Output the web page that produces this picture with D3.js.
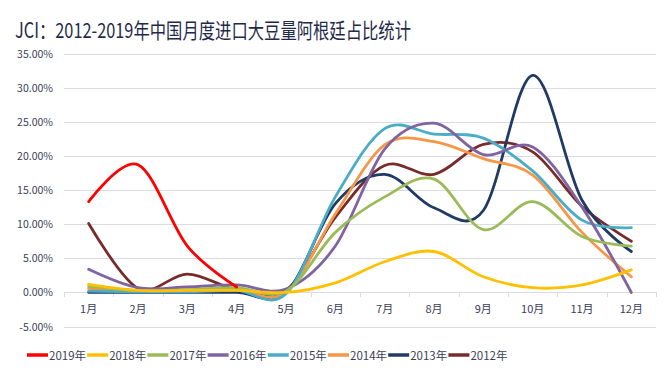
<!DOCTYPE html>
<html>
<head>
<meta charset="utf-8">
<script src="https://cdn.jsdelivr.net/npm/d3@7"></script>
<style>
  html, body { margin: 0; padding: 0; background: #fff; }
  svg { display: block; }
  text { font-family: "Noto Sans CJK SC", "Noto Sans", sans-serif; }
</style>
</head>
<body>
<svg id="chart" width="668" height="374"></svg>
<script>
const months = ["1月","2月","3月","4月","5月","6月","7月","8月","9月","10月","11月","12月"];
const yTicks = [-5, 0, 5, 10, 15, 20, 25, 30, 35];
const seriesNames = ["2019年","2018年","2017年","2016年","2015年","2014年","2013年","2012年"];
const seriesColors = ["#FF0000","#FFC000","#9BBB59","#8064A2","#4BACC6","#F79646","#1F3A64","#772C2A"];

const v2019 = [13.3, 18.7, 6.8, 0.8];
const v2018 = [1.2, 0.3, 0.3, 0.3, 0.0, 1.4, 4.5, 6.0, 2.3, 0.7, 1.1, 3.3];
const v2017 = [0.9, 0.3, 0.4, 0.7, 0.2, 8.8, 14.0, 16.6, 9.2, 13.3, 8.2, 6.8];
const v2016 = [3.4, 0.7, 0.8, 1.1, 0.5, 6.8, 21.0, 24.8, 20.2, 21.3, 12.5, 0.0];
const v2015 = [0.2, 0.1, 0.1, 0.3, -0.2, 14.0, 24.0, 23.2, 22.6, 17.8, 10.6, 9.5];
const v2014 = [0.6, 0.2, 0.2, 0.4, 0.0, 11.5, 21.6, 22.1, 19.6, 17.2, 8.8, 2.3];
const v2013 = [0.0, 0.0, 0.0, 0.0, 0.0, 13.0, 17.3, 12.4, 12.0, 31.8, 13.5, 6.0];
const v2012 = [10.1, 0.6, 2.7, 0.4, 0.3, 11.0, 18.6, 17.3, 21.7, 20.6, 12.6, 7.5];

const seriesValues = [v2019, v2018, v2017, v2016, v2015, v2014, v2013, v2012];
const series = seriesNames.map((n, i) => ({ name: n, color: seriesColors[i], values: seriesValues[i] }));

const svg = d3.select("#chart");
const plotLeft = 64, plotRight = 656, plotTop = 53.5, plotBottom = 326.6;

const x = d3.scaleBand().domain(months).range([plotLeft, plotRight]);
const y = d3.scaleLinear().domain([-5, 35]).range([plotBottom, plotTop]);
const cx = m => x(m) + x.bandwidth() / 2;

// Title
svg.append("text")
  .attr("x", 15).attr("y", 38)
  .attr("font-size", 21)
  .attr("fill", "#1F2A4A")
  .attr("textLength", 396)
  .attr("lengthAdjust", "spacingAndGlyphs")
  .text("JCI：2012-2019年中国月度进口大豆量阿根廷占比统计");

// Gridlines
svg.append("g").selectAll("line").data(yTicks).join("line")
  .attr("x1", plotLeft).attr("x2", plotRight)
  .attr("y1", d => Math.round(y(d)) + 0.5).attr("y2", d => Math.round(y(d)) + 0.5)
  .attr("stroke", "#D9DCE6").attr("stroke-width", 1);

// Y axis labels
svg.append("g").selectAll("text").data(yTicks).join("text")
  .attr("x", 53).attr("y", d => y(d) + 4)
  .attr("text-anchor", "end")
  .attr("font-size", 10.5)
  .attr("fill", "#3A4058")
  .text(d => d.toFixed(2) + "%");

// Category ticks on zero line
const bounds = d3.range(months.length + 1).map(i => plotLeft + i * x.step());
svg.append("g").selectAll("line").data(bounds).join("line")
  .attr("x1", d => Math.round(d) + 0.5).attr("x2", d => Math.round(d) + 0.5)
  .attr("y1", Math.round(y(0))).attr("y2", Math.round(y(0)) + 5)
  .attr("stroke", "#D9DCE6");

// X labels
svg.append("g").selectAll("text").data(months).join("text")
  .attr("x", d => cx(d)).attr("y", 313)
  .attr("text-anchor", "middle")
  .attr("font-size", 11)
  .attr("fill", "#3A4058")
  .text(d => d);

// Lines
const line = d3.line()
  .x((d, i) => cx(months[i]))
  .y(d => y(d))
  .curve(d3.curveCardinal.tension(0));

svg.append("g").selectAll("path").data(series.slice().reverse()).join("path")
  .attr("d", s => line(s.values))
  .attr("fill", "none")
  .attr("stroke", s => s.color)
  .attr("stroke-width", 2.8)
  .attr("stroke-linejoin", "round")
  .attr("stroke-linecap", "round");

// Legend
const lg = svg.append("g");
series.forEach((s, i) => {
  const x0 = 27 + i * 60.2;
  lg.append("line")
    .attr("x1", x0).attr("x2", x0 + 21)
    .attr("y1", 355).attr("y2", 355)
    .attr("stroke", s.color).attr("stroke-width", 3.5);
  lg.append("text")
    .attr("x", x0 + 22).attr("y", 359.5)
    .attr("font-size", 11.5)
    .attr("fill", "#3A4058")
    .text(s.name);
});
</script>
</body>
</html>
